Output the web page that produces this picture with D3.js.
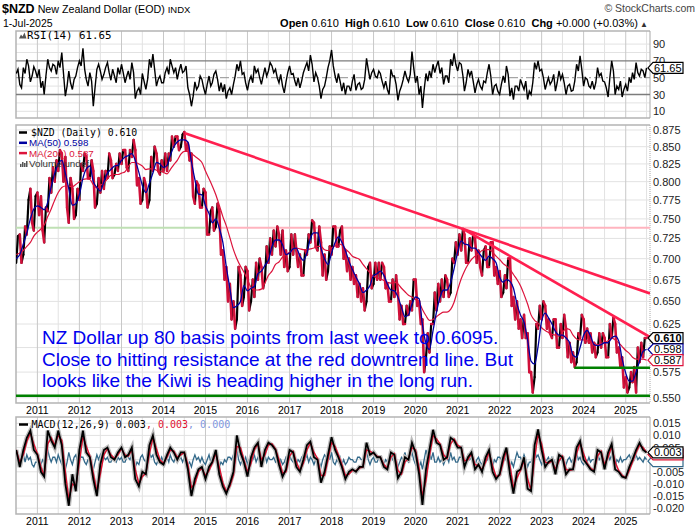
<!DOCTYPE html>
<html>
<head>
<meta charset="utf-8">
<title>$NZD</title>
<script src="https://cdn.jsdelivr.net/npm/d3@7"></script>
<style>
  body { margin: 0; background: #fff; }
  svg { display: block; }
</style>
</head>
<body>
<div id="chart"></div>
<script>
// $NZD daily, StockCharts style: RSI(14) on top, price with MA(50)/MA(200), MACD below.
// Price/MA/MACD: one sample per month, Jul 2010 .. Jul 2025 (one row per year).
// RSI and MACD histogram: two samples per month (1st and 16th).

var nzdLow = [
  0.695,0.695,0.705,0.730,0.745,0.735,
  0.755,0.735,0.720,0.760,0.785,0.800,0.815,0.800,0.765,0.745,0.750,0.755,
  0.775,0.815,0.805,0.805,0.765,0.770,0.785,0.790,0.805,0.805,0.810,0.815,
  0.825,0.820,0.815,0.835,0.795,0.770,0.775,0.765,0.775,0.815,0.815,0.810,
  0.815,0.815,0.830,0.850,0.845,0.850,0.845,0.830,0.780,0.770,0.765,0.765,
  0.730,0.730,0.735,0.740,0.705,0.675,0.650,0.630,0.620,0.630,0.645,0.655,
  0.640,0.650,0.655,0.675,0.665,0.675,0.695,0.705,0.715,0.705,0.690,0.685,
  0.690,0.705,0.690,0.680,0.680,0.705,0.720,0.715,0.710,0.680,0.675,0.685,
  0.705,0.715,0.715,0.700,0.685,0.675,0.670,0.655,0.650,0.640,0.650,0.665,
  0.670,0.675,0.675,0.665,0.650,0.650,0.655,0.630,0.625,0.625,0.635,0.640,
  0.645,0.625,0.575,0.590,0.595,0.625,0.640,0.650,0.655,0.655,0.660,0.695,
  0.705,0.710,0.695,0.695,0.710,0.695,0.690,0.680,0.690,0.690,0.680,0.670,
  0.655,0.660,0.665,0.645,0.630,0.620,0.610,0.610,0.575,0.555,0.570,0.620,
  0.630,0.620,0.615,0.610,0.600,0.600,0.610,0.590,0.585,0.580,0.585,0.610,
  0.605,0.605,0.595,0.590,0.595,0.600,0.590,0.590,0.610,0.595,0.580,0.560,
  0.555,0.560,0.565,0.555,0.585,0.590,0.605
];
var nzdHigh = [
  0.728,0.730,0.740,0.775,0.790,0.780,
  0.785,0.780,0.765,0.805,0.820,0.830,0.845,0.840,0.835,0.805,0.790,0.790,
  0.825,0.840,0.835,0.830,0.815,0.805,0.815,0.815,0.840,0.830,0.825,0.840,
  0.845,0.845,0.845,0.860,0.845,0.805,0.805,0.795,0.835,0.850,0.840,0.830,
  0.840,0.840,0.865,0.865,0.865,0.868,0.872,0.855,0.840,0.800,0.795,0.790,
  0.785,0.760,0.765,0.770,0.760,0.710,0.690,0.670,0.650,0.690,0.680,0.690,
  0.685,0.675,0.695,0.700,0.690,0.715,0.725,0.735,0.740,0.730,0.735,0.710,
  0.730,0.730,0.710,0.705,0.710,0.730,0.748,0.745,0.740,0.720,0.705,0.715,
  0.740,0.740,0.735,0.740,0.710,0.700,0.690,0.680,0.670,0.665,0.690,0.695,
  0.695,0.695,0.695,0.690,0.670,0.675,0.680,0.660,0.645,0.645,0.650,0.675,
  0.675,0.650,0.630,0.615,0.625,0.660,0.670,0.675,0.680,0.675,0.700,0.720,
  0.730,0.737,0.730,0.725,0.730,0.725,0.710,0.710,0.715,0.720,0.720,0.690,
  0.685,0.680,0.700,0.700,0.655,0.650,0.630,0.635,0.615,0.575,0.625,0.645,
  0.650,0.645,0.630,0.630,0.630,0.625,0.635,0.620,0.605,0.595,0.615,0.635,
  0.630,0.620,0.615,0.605,0.615,0.615,0.610,0.625,0.632,0.625,0.600,0.590,
  0.570,0.575,0.580,0.600,0.605,0.610,0.612
];
var nzdClose = [
  0.720,0.700,0.735,0.760,0.755,0.775,
  0.770,0.750,0.765,0.800,0.815,0.825,0.835,0.830,0.770,0.775,0.760,0.775,
  0.810,0.830,0.815,0.820,0.765,0.790,0.805,0.805,0.825,0.820,0.820,0.830,
  0.840,0.835,0.835,0.850,0.805,0.785,0.795,0.775,0.825,0.835,0.820,0.820,
  0.820,0.830,0.860,0.860,0.850,0.865,0.860,0.840,0.785,0.785,0.780,0.780,
  0.740,0.750,0.745,0.755,0.715,0.690,0.665,0.640,0.625,0.670,0.655,0.680,
  0.650,0.665,0.685,0.695,0.675,0.705,0.715,0.725,0.730,0.715,0.705,0.695,
  0.720,0.720,0.700,0.690,0.705,0.725,0.745,0.725,0.725,0.690,0.685,0.705,
  0.730,0.725,0.725,0.710,0.695,0.685,0.680,0.670,0.660,0.650,0.680,0.675,
  0.685,0.685,0.685,0.670,0.655,0.665,0.665,0.635,0.630,0.635,0.640,0.665,
  0.660,0.635,0.578,0.600,0.615,0.640,0.660,0.665,0.665,0.660,0.690,0.715,
  0.720,0.730,0.705,0.715,0.720,0.705,0.700,0.700,0.695,0.715,0.690,0.680,
  0.665,0.670,0.690,0.660,0.645,0.635,0.625,0.620,0.580,0.558,0.610,0.635,
  0.640,0.635,0.620,0.620,0.610,0.610,0.620,0.600,0.595,0.580,0.595,0.625,
  0.620,0.610,0.605,0.595,0.605,0.610,0.600,0.605,0.625,0.605,0.590,0.570,
  0.562,0.565,0.570,0.590,0.598,0.600,0.610
];
var ma50 = [
  0.700,0.705,0.718,0.732,0.750,0.763,
  0.767,0.765,0.762,0.772,0.793,0.812,0.825,0.830,0.812,0.790,0.768,0.770,
  0.782,0.805,0.818,0.822,0.800,0.792,0.787,0.800,0.812,0.817,0.822,0.823,
  0.830,0.835,0.837,0.840,0.830,0.813,0.795,0.785,0.798,0.812,0.827,0.825,
  0.820,0.823,0.837,0.850,0.857,0.860,0.860,0.857,0.828,0.803,0.783,0.782,
  0.767,0.757,0.745,0.750,0.738,0.720,0.690,0.665,0.643,0.645,0.650,0.668,
  0.662,0.665,0.667,0.682,0.685,0.692,0.698,0.715,0.723,0.723,0.717,0.705,
  0.707,0.712,0.713,0.703,0.698,0.707,0.725,0.732,0.732,0.713,0.700,0.693,
  0.707,0.720,0.727,0.720,0.710,0.697,0.687,0.678,0.670,0.660,0.663,0.668,
  0.680,0.682,0.685,0.680,0.670,0.663,0.662,0.655,0.643,0.633,0.635,0.647,
  0.655,0.653,0.624,0.604,0.598,0.618,0.638,0.655,0.663,0.663,0.672,0.688,
  0.708,0.722,0.718,0.717,0.713,0.713,0.708,0.702,0.698,0.703,0.700,0.695,
  0.678,0.672,0.675,0.673,0.665,0.647,0.635,0.627,0.608,0.586,0.583,0.601,
  0.628,0.637,0.632,0.625,0.617,0.613,0.613,0.610,0.605,0.592,0.590,0.600,
  0.613,0.618,0.612,0.603,0.602,0.603,0.605,0.605,0.610,0.612,0.607,0.588,
  0.574,0.566,0.566,0.575,0.586,0.596,0.598
];
var ma200 = [
  0.705,0.707,0.710,0.715,0.720,0.728,
  0.733,0.737,0.742,0.753,0.763,0.775,0.785,0.792,0.794,0.794,0.793,0.796,
  0.800,0.803,0.804,0.803,0.796,0.791,0.795,0.798,0.804,0.809,0.810,0.810,
  0.812,0.814,0.821,0.827,0.827,0.825,0.822,0.817,0.818,0.818,0.816,0.815,
  0.813,0.811,0.817,0.824,0.830,0.839,0.843,0.843,0.840,0.836,0.832,0.827,
  0.815,0.804,0.794,0.782,0.768,0.753,0.741,0.726,0.711,0.700,0.691,0.684,
  0.675,0.666,0.663,0.663,0.664,0.671,0.680,0.685,0.693,0.696,0.702,0.705,
  0.708,0.711,0.713,0.712,0.711,0.711,0.712,0.713,0.715,0.715,0.711,0.710,
  0.713,0.716,0.718,0.717,0.712,0.708,0.703,0.701,0.699,0.693,0.688,0.683,
  0.679,0.677,0.676,0.674,0.672,0.671,0.672,0.670,0.665,0.661,0.657,0.655,
  0.652,0.649,0.641,0.634,0.629,0.630,0.633,0.636,0.638,0.638,0.641,0.649,
  0.663,0.676,0.685,0.693,0.699,0.703,0.706,0.710,0.711,0.711,0.708,0.703,
  0.699,0.694,0.691,0.687,0.681,0.675,0.668,0.658,0.647,0.635,0.629,0.626,
  0.621,0.618,0.616,0.614,0.613,0.612,0.616,0.620,0.619,0.613,0.609,0.608,
  0.608,0.607,0.606,0.605,0.603,0.604,0.605,0.607,0.610,0.608,0.605,0.601,
  0.597,0.594,0.590,0.588,0.588,0.588,0.587
];
var rsi14 = [
  55,60, 42,38, 62,55, 72,64, 45,52, 63,58,
  50,60, 38,46, 30,52, 72,62, 58,66, 64,54, 70,62, 80,55, 28,40, 58,44, 36,48, 52,62,
  70,64, 85,60, 48,40, 56,46, 16,38, 60,66, 58,48, 54,62, 68,56, 47,60, 52,44, 62,54,
  66,56, 44,52, 58,48, 68,56, 25,34, 38,30, 55,46, 36,48, 72,62, 78,60, 40,48, 52,44,
  44,56, 62,54, 72,64, 56,62, 48,58, 66,56, 58,64, 38,30, 16,28, 45,36, 40,52, 48,38,
  30,42, 52,40, 44,54, 58,48, 34,44, 33,42, 25,34, 38,30, 42,52, 66,58, 70,54, 56,44,
  35,46, 52,44, 64,56, 60,50, 42,52, 62,52, 58,68, 64,56, 60,50, 44,54, 40,32, 45,56,
  64,54, 55,46, 40,50, 38,46, 56,62, 68,58, 77,66, 45,56, 50,40, 25,36, 40,50, 62,70,
  83,64, 52,44, 55,46, 34,44, 30,40, 40,34, 46,54, 35,42, 44,36, 38,48, 73,60, 48,56,
  60,52, 50,58, 55,46, 38,46, 36,30, 60,52, 52,42, 23,34, 40,48, 58,50, 45,54, 81,62,
  44,52, 30,40, 14,36, 55,46, 58,50, 66,56, 64,70, 55,62, 42,52, 52,44, 72,64, 79,66,
  58,68, 66,52, 34,44, 60,52, 58,46, 32,42, 48,40, 36,46, 44,56, 66,52, 30,40, 42,34,
  30,42, 52,44, 64,54, 28,38, 24,40, 40,34, 48,42, 36,46, 24,34, 30,44, 68,60, 70,58,
  60,50, 36,44, 50,42, 46,54, 34,44, 58,48, 54,44, 30,40, 42,34, 35,46, 66,58, 76,60,
  40,50, 48,40, 38,46, 36,44, 62,52, 55,46, 45,38, 27,50, 70,58, 30,40, 36,46, 27,36,
  42,34, 50,44, 56,48, 68,56, 52,60, 58,50, 61.65
];
var macdLine = [
  0.004,-0.003,0.004,0.009,0.012,0.004,
  0.002,-0.005,-0.007,0.012,0.008,0.005,0.012,0.006,-0.010,-0.019,-0.006,-0.013,
  0.004,0.012,0.003,0.001,-0.008,-0.015,-0.002,0.004,0.005,0.001,0.000,0.003,
  0.005,0.001,0.002,0.005,-0.008,-0.011,-0.005,-0.006,0.006,0.010,0.002,-0.001,
  -0.002,0.002,0.005,0.003,0.000,0.003,0.003,-0.004,-0.015,-0.008,-0.004,-0.003,
  -0.008,-0.003,-0.001,0.004,-0.006,-0.011,-0.014,-0.010,-0.005,0.010,0.003,-0.001,
  -0.007,0.001,0.005,0.007,-0.003,0.004,0.007,0.006,0.004,-0.002,-0.007,-0.004,
  0.004,0.003,-0.003,-0.005,0.000,0.006,0.0075,0.001,0.000,-0.0095,-0.005,0.002,
  0.0093,0.004,0.001,-0.003,-0.008,-0.005,-0.004,-0.005,-0.003,-0.003,0.007,0.002,
  0.003,0.001,0.001,-0.003,-0.004,0.003,0.002,-0.0076,-0.005,0.001,0.000,0.007,
  0.003,-0.006,-0.0187,-0.004,0.004,0.0123,0.007,0.006,0.000,0.001,0.009,0.008,
  0.005,0.005,-0.003,0.001,0.003,-0.004,-0.002,-0.005,0.001,0.004,-0.005,-0.008,
  -0.006,0.001,0.005,-0.006,-0.014,-0.005,-0.004,0.001,-0.012,-0.013,0.006,0.0125,
  0.004,-0.003,-0.001,0.000,-0.006,0.002,0.001,-0.006,-0.004,-0.004,0.005,0.0077,
  0.000,-0.002,-0.004,-0.005,0.004,0.003,-0.004,0.003,0.0065,-0.004,-0.005,-0.007,
  -0.0075,-0.003,0.000,0.004,0.007,0.004,0.003
];
var macdSignal = [
  0.004,-0.001,0.002,0.0075,0.011,0.0065,
  0.0025,-0.003,-0.0065,0.0065,0.009,0.006,0.010,0.008,-0.005,-0.0165,-0.010,-0.011,
  -0.001,0.0095,0.0055,0.0015,-0.0055,-0.013,-0.006,0.002,0.0045,0.002,0.0005,0.002,
  0.0045,0.002,0.0015,0.004,-0.004,-0.010,-0.007,-0.0055,0.0025,0.009,0.0045,0.000,
  -0.0015,0.001,0.004,0.0035,0.001,0.002,0.003,-0.002,-0.0115,-0.010,-0.005,-0.0035,
  -0.0065,-0.0045,-0.0015,0.0025,-0.003,-0.0095,-0.013,-0.011,-0.0065,0.0055,0.005,0.000,
  -0.005,-0.0015,0.004,0.0065,0.000,0.002,0.006,0.0065,0.0045,0.000,-0.0055,-0.005,
  0.0015,0.0035,-0.001,-0.0045,-0.0015,0.004,0.007,0.003,0.0005,-0.0065,-0.0065,0.000,
  0.007,0.0055,0.002,-0.002,-0.0065,-0.006,-0.0045,-0.0045,-0.0035,-0.003,0.004,0.0035,
  0.0025,0.0015,0.001,-0.002,-0.0035,0.001,0.0025,-0.0045,-0.006,-0.001,0.0005,0.005,
  0.004,-0.0035,-0.015,-0.0085,0.0015,0.010,0.0085,0.0065,0.002,0.0005,0.0065,0.0085,
  0.006,0.005,-0.0005,0.000,0.0025,-0.002,-0.0025,-0.004,-0.001,0.003,-0.0025,-0.007,
  -0.0065,-0.001,0.004,-0.0025,-0.0115,-0.0075,-0.0045,-0.0005,-0.008,-0.0125,0.0005,0.0105,
  0.0065,-0.001,-0.0015,-0.0005,-0.004,-0.0005,0.0015,-0.004,-0.0045,-0.004,0.0025,0.007,
  0.0025,-0.0015,-0.0035,-0.0045,0.0015,0.0035,-0.002,0.001,0.0055,-0.001,-0.0045,-0.0065,
  -0.0075,-0.0045,-0.001,0.003,0.006,0.005,0.003
];
var macdHist = [
  0.001,-0.001, -0.002,0.000, 0.002,-0.001, 0.002,0.000, 0.001,-0.002, -0.003,-0.001,
  -0.001,0.001, -0.002,0.000, -0.001,0.002, 0.004,0.001, -0.001,0.001, 0.001,-0.001, 0.002,0.000, -0.002,-0.003, -0.004,-0.001, 0.003,0.000, -0.002,0.001, 0.002,-0.001,
  0.003,0.001, 0.001,-0.001, -0.002,0.000, 0.001,-0.002, -0.004,-0.001, 0.002,0.000, 0.002,-0.001, 0.001,0.000, 0.001,-0.001, -0.001,0.001, 0.000,-0.001, 0.001,0.000,
  0.001,-0.001, -0.001,0.001, 0.001,0.000, 0.002,-0.001, -0.003,-0.001, -0.002,0.001, 0.002,0.000, -0.001,0.001, 0.003,0.001, 0.002,-0.001, -0.002,0.000, -0.001,0.001,
  -0.001,0.000, 0.001,-0.001, 0.002,0.000, -0.001,0.001, -0.001,0.000, 0.001,-0.001, 0.001,0.000, -0.002,-0.001, -0.003,0.000, 0.002,0.000, 0.001,-0.001, 0.001,-0.001,
  -0.002,0.000, 0.002,-0.001, 0.001,0.000, 0.002,-0.001, -0.003,-0.001, -0.002,0.000, -0.001,0.001, 0.001,0.000, 0.002,0.001, 0.004,0.000, -0.002,0.000, -0.001,0.001,
  -0.002,0.000, 0.002,0.000, 0.002,-0.001, 0.001,0.000, -0.002,0.000, 0.002,-0.001, 0.001,0.000, 0.000,0.001, -0.001,0.000, -0.002,0.000, -0.002,-0.001, 0.001,0.000,
  0.002,0.000, -0.001,0.001, -0.002,0.000, -0.001,0.001, 0.002,0.000, 0.002,-0.001, 0.001,0.000, -0.002,0.000, 0.000,-0.001, -0.003,0.000, 0.002,0.001, 0.003,0.000,
  0.003,-0.001, -0.002,0.000, -0.001,0.001, -0.002,0.000, -0.002,-0.001, 0.001,0.000, 0.000,-0.001, -0.001,0.001, 0.001,0.000, 0.000,0.002, 0.004,0.000, -0.002,0.000,
  0.001,-0.001, -0.001,0.001, 0.000,-0.001, -0.002,0.000, -0.001,0.001, 0.003,0.000, -0.001,0.000, -0.003,-0.001, 0.001,0.000, 0.003,0.000, -0.001,0.001, 0.003,0.000,
  -0.002,0.000, -0.003,-0.001, -0.004,0.000, 0.004,0.001, 0.003,0.000, 0.003,-0.001, -0.001,0.001, -0.001,0.000, -0.002,0.000, 0.001,-0.001, 0.003,0.000, 0.001,-0.001,
  -0.001,0.001, 0.001,-0.001, -0.003,0.000, 0.002,0.000, 0.001,-0.001, -0.002,0.000, 0.001,-0.001, -0.002,0.000, 0.002,0.000, 0.002,-0.001, -0.003,0.000, -0.001,0.001,
  0.001,0.000, 0.002,0.000, 0.002,-0.001, -0.003,-0.001, -0.003,0.000, 0.003,0.001, 0.001,-0.001, 0.002,0.000, -0.003,-0.001, -0.001,0.001, 0.004,0.001, 0.002,0.000,
  -0.002,0.000, -0.002,0.000, 0.001,-0.001, 0.001,0.000, -0.002,0.000, 0.002,0.000, 0.001,-0.001, -0.002,0.000, 0.001,-0.001, 0.000,0.001, 0.003,0.000, 0.001,-0.001,
  -0.002,0.000, -0.001,0.001, -0.001,0.000, 0.000,0.001, 0.003,0.000, 0.001,-0.001, -0.002,0.000, 0.002,0.000, 0.002,-0.001, -0.003,0.000, -0.001,0.001, -0.001,0.000,
  0.000,0.001, 0.002,0.000, 0.002,0.000, 0.002,0.000, 0.001,0.000, -0.001,0.001, 0.000
];

var priceTicks = [0.550,0.575,0.600,0.625,0.650,0.675,0.700,0.725,0.750,0.775,0.800,0.825,0.850,0.875];
var rsiTicks = [10, 30, 50, 70, 90];
var rsiGrid = [10, 20, 40, 60, 80, 90];
var macdTicks = [-0.020,-0.015,-0.010,-0.005,0.000,0.005,0.010,0.015];
var yearLabels = d3.range(2011, 2026);

// drawn lines on the price panel
var trendLines = [
  { from: "2014-07-07", fromValue: 0.870, to: "2025-07-31", toValue: 0.659 },
  { from: "2021-02-17", fromValue: 0.737, to: "2025-07-31", toValue: 0.611 }
];
var supportLines = [
  { from: "2010-06-29", to: "2025-07-31", value: 0.5519 },
  { from: "2023-10-12", to: "2025-07-31", value: 0.5794 }
];
var levelLine = { value: 0.7387, greenUntil: "2015-01-14" };

var noteLines = [
  "NZ Dollar up 80 basis points from last week to 0.6095.",
  "Close to hitting resistance at the red downtrend line. But",
  "looks like the Kiwi is heading higher in the long run."
];

var last = { close: 0.610, ma50: 0.598, ma200: 0.587, rsi: 61.65, macd: 0.003, signal: 0.003, hist: 0.000 };

var font = "Arial, 'Liberation Sans', sans-serif";
var mono = "'DejaVu Sans Mono', monospace";
var red = "#d0103a";

var parse = d3.timeParse("%Y-%m-%d");
var months = d3.timeMonth.range(new Date(2010, 6, 1), new Date(2025, 6, 2));
var halfMonths = [];
months.forEach(function(m, i){
    halfMonths.push(m);
    if (i < months.length - 1) halfMonths.push(new Date(m.getFullYear(), m.getMonth(), 16));
});

var left = 16, right = 650;
var x = d3.scaleTime().domain([parse("2010-06-29"), parse("2025-07-31")]).range([left, right]);

var rsiPanel = { top: 31, bottom: 118 };
var pricePanel = { top: 125, bottom: 403 };
var macdPanel = { top: 417, bottom: 514 };

var yRsi = d3.scaleLinear().domain([0, 100]).range([119.7, 35.7]);
var yPrice = d3.scaleLog().domain([0.545, 0.8826]).range([pricePanel.bottom, pricePanel.top]);
var yMacd = d3.scaleLinear().domain([-0.0224, 0.0176]).range([macdPanel.bottom, macdPanel.top]);

var yearStarts = yearLabels.map(function(y){ return new Date(y, 0, 1); });
var halfYears = yearLabels.map(function(y){ return new Date(y, 6, 1); });
var fmt3 = function(d){ return d.toFixed(3); };

var svg = d3.select("#chart").append("svg")
    .attr("width", 700).attr("height", 530)
    .style("font-family", font);

function panel(p, id, yScale, gridVals, labelVals, fmt, dottedRight) {
    var g = svg.append("g");
    svg.append("clipPath").attr("id", id).append("rect")
	.attr("x", left).attr("y", p.top).attr("width", right - left).attr("height", p.bottom - p.top);

    g.selectAll(null).data(gridVals).enter().append("line")
	.attr("x1", left).attr("x2", right)
	.attr("y1", function(d){ return yScale(d); }).attr("y2", function(d){ return yScale(d); })
	.attr("stroke", "#e2e2e2");
    g.selectAll(null).data(halfYears).enter().append("line")
	.attr("x1", function(d){ return x(d); }).attr("x2", function(d){ return x(d); })
	.attr("y1", p.top).attr("y2", p.bottom)
	.attr("stroke", "#e2e2e2");
    g.selectAll(null).data(yearStarts).enter().append("line")
	.attr("x1", function(d){ return x(d); }).attr("x2", function(d){ return x(d); })
	.attr("y1", p.top).attr("y2", p.bottom)
	.attr("stroke", "#c8c8c8");

    g.selectAll(null).data(labelVals).enter().append("text")
	.attr("x", right + 3).attr("y", function(d){ return yScale(d) + 4; })
	.attr("font-size", 11).attr("fill", "#222")
	.text(fmt);

    g.append("path")
	.attr("d", "M" + right + "," + p.top + "H" + left + "V" + p.bottom + "H" + right)
	.attr("fill", "none").attr("stroke", "#b4b4b4").attr("stroke-width", 1.5);
    g.append("line")
	.attr("x1", right).attr("x2", right).attr("y1", p.top).attr("y2", p.bottom)
	.attr("stroke", "#a8a8a8").attr("stroke-dasharray", dottedRight ? "1,1" : null);
    return g;
}

function valueTag(yPos, label, stroke, bold) {
    var t = svg.append("g").attr("transform", "translate(" + (right - 2) + "," + yPos + ")");
    t.append("path").attr("d", "M0,0L5,-5.5H35V5.5H5Z")
	.attr("fill", "#fff").attr("stroke", stroke).attr("stroke-width", 1.2);
    if (label) {
	t.append("text").attr("x", 6).attr("y", 4)
	    .attr("font-size", 11).attr("font-weight", bold ? "bold" : "normal")
	    .text(label);
    }
}

// ---- header
var head = svg.append("g");
var t1 = head.append("text").attr("x", 2).attr("y", 12.7);
t1.append("tspan").attr("font-weight", "bold").attr("font-size", 12.5).text("$NZD");
t1.append("tspan").attr("font-size", 10.7).text("\u00a0New Zealand Dollar (EOD)\u00a0");
t1.append("tspan").attr("font-size", 9.5).text("INDX");
head.append("text").attr("x", 3).attr("y", 26.5).attr("font-size", 10.5).text("1-Jul-2025");
head.append("text").attr("x", 695).attr("y", 11.7).attr("text-anchor", "end")
    .attr("font-size", 10.5).attr("fill", "#444").text("\u00a9 StockCharts.com");
var quote = head.append("text").attr("x", 648).attr("y", 26.5).attr("text-anchor", "end").attr("font-size", 11);
[["Open", fmt3(last.close)], ["High", fmt3(last.close)], ["Low", fmt3(last.close)],
 ["Close", fmt3(last.close)], ["Chg", "+0.000 (+0.03%)"]].forEach(function(q, i){
    quote.append("tspan").attr("font-weight", "bold").text((i ? "\u00a0\u00a0" : "") + q[0]);
    quote.append("tspan").text("\u00a0" + q[1]);
});
quote.append("tspan").attr("font-size", 8).attr("fill", "#333").text("\u00a0\u25b2");

// ---- RSI panel
var rsiG = panel(rsiPanel, "clipRsi", yRsi, rsiGrid, rsiTicks, function(d){ return d; }, false);
[30, 70].forEach(function(v){
    rsiG.append("line").attr("x1", left).attr("x2", right)
	.attr("y1", yRsi(v)).attr("y2", yRsi(v))
	.attr("stroke", "#7c7c7c").attr("stroke-width", 1.3);
});
rsiG.append("line").attr("x1", left).attr("x2", right)
    .attr("y1", yRsi(50)).attr("y2", yRsi(50))
    .attr("stroke", "#909090").attr("stroke-dasharray", "9,3,2,3");
svg.append("g").attr("clip-path", "url(#clipRsi)").append("path")
    .datum(rsi14)
    .attr("d", d3.line().x(function(d, i){ return x(halfMonths[i]); }).y(function(d){ return yRsi(d); }))
    .attr("fill", "none").attr("stroke", "#000").attr("stroke-width", 1.4);
svg.append("path").attr("d", "M19,38.5L21,34.5L22.5,36.5L24.5,32.5L26.5,38.5Z").attr("fill", "#555");
svg.append("text").attr("x", 27).attr("y", 38.5).attr("font-family", mono).attr("font-size", 10.8)
    .text("RSI(14) " + last.rsi);
valueTag(yRsi(last.rsi), last.rsi.toFixed(2), "#000", false);

// ---- price panel
panel(pricePanel, "clipPrice", yPrice, priceTicks, priceTicks, fmt3, true);
var priceG = svg.append("g").attr("clip-path", "url(#clipPrice)");
var lvlY = yPrice(levelLine.value), lvlX = x(parse(levelLine.greenUntil));
priceG.append("line").attr("x1", left).attr("x2", lvlX).attr("y1", lvlY).attr("y2", lvlY)
    .attr("stroke", "#bfe0b4").attr("stroke-width", 2);
priceG.append("line").attr("x1", lvlX).attr("x2", right).attr("y1", lvlY).attr("y2", lvlY)
    .attr("stroke", "#ffb4bf").attr("stroke-width", 2);

// each month runs low->high (up month) or high->low (down month); rising legs black, falling legs red
var pts = [];
months.forEach(function(m, i){
    if (i === months.length - 1) { pts.push([x(m), yPrice(nzdClose[i])]); return; }
    var up = i === 0 || nzdClose[i] >= nzdClose[i - 1];
    pts.push([x(m), yPrice(up ? nzdLow[i] : nzdHigh[i])]);
    pts.push([x(new Date(m.getFullYear(), m.getMonth(), 16)), yPrice(up ? nzdHigh[i] : nzdLow[i])]);
});
var legs = d3.range(1, pts.length).map(function(k){ return [pts[k - 1], pts[k]]; });
var rising = legs.filter(function(s){ return s[1][1] < s[0][1]; });
var falling = legs.filter(function(s){ return s[1][1] >= s[0][1]; });
priceG.selectAll(null).data(rising).enter().append("line")
    .attr("x1", function(s){ return s[0][0]; }).attr("y1", function(s){ return s[0][1]; })
    .attr("x2", function(s){ return s[1][0]; }).attr("y2", function(s){ return s[1][1]; })
    .attr("stroke", "#000").attr("stroke-width", 2.2).attr("stroke-linecap", "round");
priceG.selectAll(null).data(falling).enter().append("line")
    .attr("x1", function(s){ return s[0][0]; }).attr("y1", function(s){ return s[0][1]; })
    .attr("x2", function(s){ return s[1][0]; }).attr("y2", function(s){ return s[1][1]; })
    .attr("stroke", red).attr("stroke-width", 2.6).attr("stroke-linecap", "round");

var maLine = function(arr){
    return d3.line().curve(d3.curveMonotoneX)
	.x(function(d, i){ return x(months[i]); }).y(function(d){ return yPrice(d); })(arr);
};
priceG.append("path").attr("d", maLine(ma200)).attr("fill", "none").attr("stroke", "#dc143c").attr("stroke-width", 1.2);
priceG.append("path").attr("d", maLine(ma50)).attr("fill", "none").attr("stroke", "#0000a0").attr("stroke-width", 1.3);

priceG.selectAll(null).data(supportLines).enter().append("line")
    .attr("x1", function(d){ return x(parse(d.from)); }).attr("x2", function(d){ return x(parse(d.to)); })
    .attr("y1", function(d){ return yPrice(d.value); }).attr("y2", function(d){ return yPrice(d.value); })
    .attr("stroke", "#008000").attr("stroke-width", 2.6);
priceG.selectAll(null).data(trendLines).enter().append("line")
    .attr("x1", function(d){ return x(parse(d.from)); }).attr("x2", function(d){ return x(parse(d.to)); })
    .attr("y1", function(d){ return yPrice(d.fromValue); }).attr("y2", function(d){ return yPrice(d.toValue); })
    .attr("stroke", "#ff1f4f").attr("stroke-width", 2.6);

// legend
var leg = svg.append("g");
var legRows = [
    { color: "#000", text: "$NZD (Daily) " + fmt3(last.close), y: 136, mono: true },
    { color: "#0000a0", text: "MA(50) " + fmt3(last.ma50), y: 146.3 },
    { color: "#dc143c", text: "MA(200) " + fmt3(last.ma200), y: 156.6 }
];
legRows.forEach(function(r){
    leg.append("line").attr("x1", 19).attr("x2", 27).attr("y1", r.y - 3.5).attr("y2", r.y - 3.5)
	.attr("stroke", r.color).attr("stroke-width", 2.5);
    leg.append("text").attr("x", r.mono ? 31 : 29).attr("y", r.y)
	.attr("font-family", r.mono ? mono : font).attr("font-size", 9.8)
	.attr("fill", r.color).text(r.text);
});
[[20, 3], [22, 5], [24, 4], [26, 6]].forEach(function(b){
    leg.append("rect").attr("x", b[0]).attr("y", 167 - b[1]).attr("width", 1.5).attr("height", b[1]).attr("fill", "#555");
});
leg.append("text").attr("x", 29).attr("y", 167).attr("font-size", 9.8).attr("fill", "#333").text("Volume undef");

// note
svg.append("g").selectAll(null).data(noteLines).enter().append("text")
    .attr("x", 42).attr("y", function(d, i){ return 344 + i * 21.7; })
    .attr("font-size", 19).attr("fill", "#0000ee")
    .text(function(d){ return d; });

valueTag(yPrice(last.close), fmt3(last.close), "#000", true);
valueTag(yPrice(last.ma50), fmt3(last.ma50), "#0000a0", false);
valueTag(yPrice(last.ma200), fmt3(last.ma200), "#dc143c", false);

// year labels between panels and at the bottom
[414, 525].forEach(function(yy){
    svg.append("g").selectAll(null).data(yearStarts).enter().append("text")
	.attr("x", function(d){ return x(d); }).attr("y", yy)
	.attr("text-anchor", "middle").attr("font-size", 10.5)
	.text(function(d){ return d.getFullYear(); });
});

// ---- MACD panel
panel(macdPanel, "clipMacd", yMacd, macdTicks, macdTicks, fmt3, false);
var macdG = svg.append("g").attr("clip-path", "url(#clipMacd)");
var mLine = d3.line().x(function(d, i){ return x(months[i]); }).y(function(d){ return yMacd(d); });
var hLine = d3.line().x(function(d, i){ return x(halfMonths[i]); }).y(function(d){ return yMacd(d); });
macdG.append("path").attr("d", hLine(macdHist)).attr("fill", "none").attr("stroke", "#33698a").attr("stroke-width", 1.3);
macdG.append("path").attr("d", mLine(macdLine)).attr("fill", "none").attr("stroke", "#bdbdbd").attr("stroke-width", 4.5);
macdG.append("path").attr("d", mLine(macdSignal)).attr("fill", "none").attr("stroke", "#e0102f").attr("stroke-width", 1.4);
macdG.append("path").attr("d", mLine(macdLine)).attr("fill", "none").attr("stroke", "#000").attr("stroke-width", 1.8);

svg.append("line").attr("x1", 19).attr("x2", 28).attr("y1", 424.5).attr("y2", 424.5).attr("stroke", "#000").attr("stroke-width", 2.5);
var mt = svg.append("text").attr("x", 31.5).attr("y", 428).attr("font-family", mono).attr("font-size", 10);
mt.append("tspan").text("MACD(12,26,9) " + fmt3(last.macd));
mt.append("tspan").attr("fill", "#e0102f").text(", " + fmt3(last.signal));
mt.append("tspan").attr("fill", "#7f98e0").text(", " + fmt3(last.hist));

// the hist and signal tags sit under the MACD tag, as in the original
valueTag(yMacd(last.hist) + 1.5, "", "#33698a", false);
valueTag(yMacd(last.signal) + 2, "", "#e0102f", false);
valueTag(yMacd(last.macd), fmt3(last.macd), "#000", false);
</script>
</body>
</html>
